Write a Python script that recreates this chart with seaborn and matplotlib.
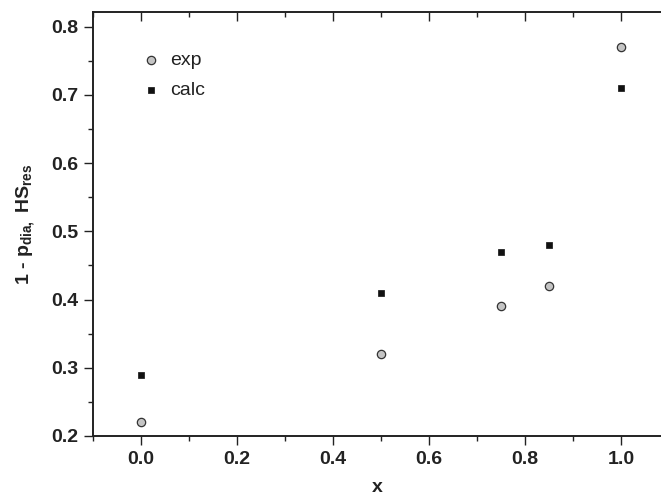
import matplotlib
matplotlib.use("Agg")
import matplotlib.pyplot as plt
from matplotlib.ticker import MultipleLocator
import seaborn as sns
import pandas as pd

x_vals = [0.0, 0.5, 0.75, 0.85, 1.0]
exp_vals = [0.22, 0.32, 0.39, 0.42, 0.77]
calc_vals = [0.29, 0.41, 0.47, 0.48, 0.71]
x_ticks = [0.0, 0.2, 0.4, 0.6, 0.8, 1.0]
x_ticklabels = ["0.0", "0.2", "0.4", "0.6", "0.8", "1.0"]
y_ticks = [0.2, 0.3, 0.4, 0.5, 0.6, 0.7, 0.8]
y_ticklabels = ["0.2", "0.3", "0.4", "0.5", "0.6", "0.7", "0.8"]

sns.set_style("white")
plt.rcParams['font.family'] = ['Liberation Sans', 'DejaVu Sans']
plt.rcParams['mathtext.fontset'] = 'custom'
plt.rcParams['mathtext.rm'] = 'Liberation Sans'
plt.rcParams['mathtext.bf'] = 'Liberation Sans:bold'
plt.rcParams['mathtext.default'] = 'bf'

FS = 14
INK = '#222222'
XLIM = (-0.1, 1.0854)

fig = plt.figure(figsize=(6.61, 4.96), dpi=100)
ax = fig.add_axes([93/661, 60/496, (662-93)/661, (436-12)/496])
ax.patch.set_facecolor('none')

df_exp = pd.DataFrame({"x": x_vals, "y": exp_vals})
df_calc = pd.DataFrame({"x": x_vals, "y": calc_vals})

sns.scatterplot(data=df_exp, x="x", y="y", ax=ax, marker="o", s=36,
                color="#c4c4c4", edgecolor="#333333", linewidth=0.9, label="exp", zorder=3)
sns.scatterplot(data=df_calc, x="x", y="y", ax=ax, marker="s", s=13,
                color="#111111", edgecolor="#111111", linewidth=0.5, label="calc", zorder=3)

ax.set_xlim(*XLIM)
ax.set_ylim(0.2, 0.8215)

ax.set_xticks(x_ticks)
ax.set_xticklabels(x_ticklabels)
ax.set_yticks(y_ticks)
ax.set_yticklabels(y_ticklabels)
ax.xaxis.set_minor_locator(MultipleLocator(0.1))
ax.yaxis.set_minor_locator(MultipleLocator(0.05))

ax.tick_params(axis='both', which='major', direction='out', length=6.5, width=1.0,
               color=INK, labelsize=FS, pad=4, labelcolor=INK)
ax.tick_params(axis='both', which='minor', direction='out', length=3.5, width=1.0, color=INK)
ax.tick_params(axis='x', which='both', top=False, bottom=True)
ax.tick_params(axis='y', which='both', left=True, right=False)
for lab in ax.get_xticklabels() + ax.get_yticklabels():
    lab.set_fontweight('bold')

for side in ['left', 'bottom', 'top']:
    ax.spines[side].set_visible(True)
    ax.spines[side].set_color(INK)
    ax.spines[side].set_linewidth(1.2)
ax.spines['right'].set_visible(False)

# top ticks pointing inward via a twin axis
ax2 = ax.twiny()
ax2.set_zorder(ax.get_zorder() + 1)
ax2.patch.set_visible(False)
ax2.set_xlim(*XLIM)
ax2.set_xticks(x_ticks)
ax2.xaxis.set_minor_locator(MultipleLocator(0.1))
ax2.xaxis.set_zorder(5)
ax2.tick_params(axis='x', which='major', direction='in', length=6.5, width=1.0, color=INK,
                top=True, bottom=False, labeltop=False, labelbottom=False)
ax2.tick_params(axis='x', which='minor', direction='in', length=3.5, width=1.0, color=INK,
                top=True, bottom=False)
ax2.tick_params(axis='y', which='both', left=False, right=False, labelleft=False, labelright=False)
for side in ['left', 'bottom', 'top']:
    ax2.spines[side].set_color(INK)
    ax2.spines[side].set_linewidth(1.2)
ax2.spines['right'].set_color('none')

ax.set_xlabel("x", fontsize=FS, fontweight='bold', color=INK, labelpad=8)
ax.set_ylabel(r"1 - p$_{dia,}$ HS$_{res}$", fontsize=FS, fontweight='bold', color=INK, labelpad=10)

leg = ax.legend(loc='upper left', bbox_to_anchor=(0.072, 0.925), frameon=False,
                fontsize=FS, handletextpad=0.45, labelspacing=0.64, borderaxespad=0,
                handlelength=1.0)
for t in leg.get_texts():
    t.set_color(INK)

fig.savefig("out.png", dpi=100)
